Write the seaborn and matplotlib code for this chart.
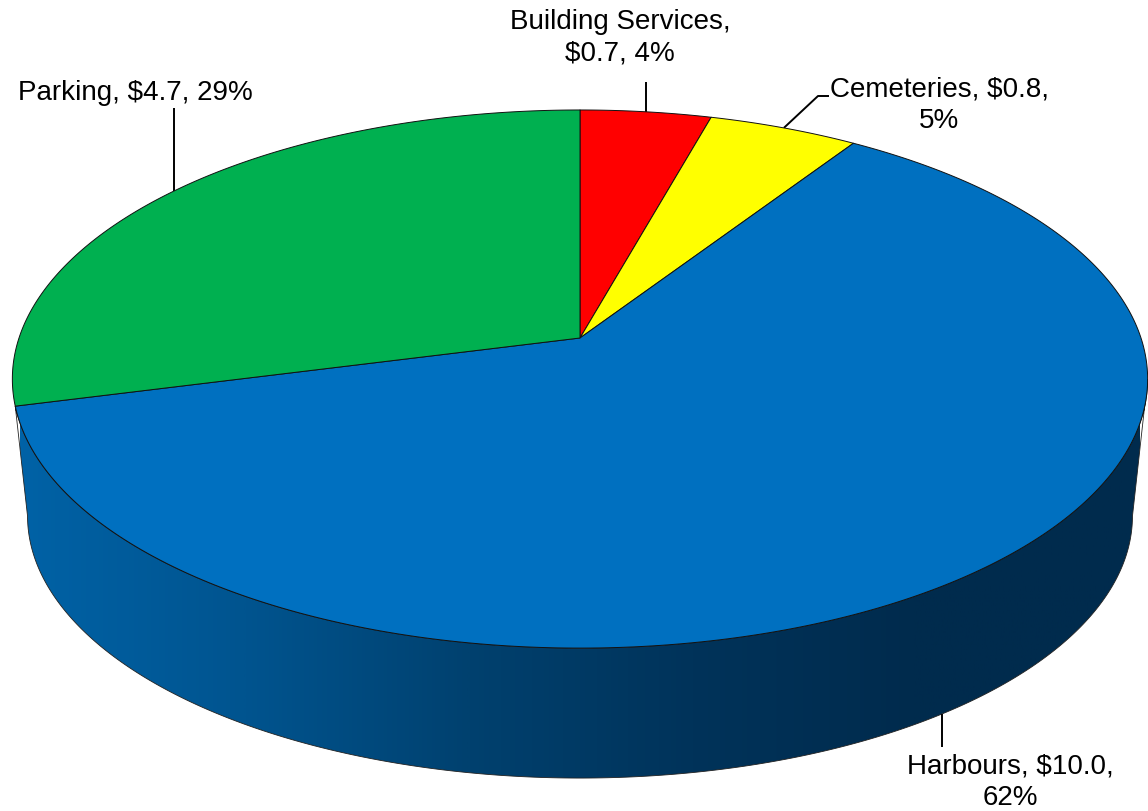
import numpy as np
import matplotlib
matplotlib.use("Agg")
import matplotlib.pyplot as plt
from matplotlib.patches import Polygon
from matplotlib.colors import to_rgb
import seaborn as sns

# Revenue by service, in $ millions, clockwise from twelve o'clock
categories = ["Building Services", "Cemeteries", "Harbours", "Parking"]
amounts = [0.7, 0.8, 10.0, 4.7]
percents = [4, 5, 62, 29]
slice_colors = ["#FF0000", "#FFFF00", "#0070C0", "#00B050"]
wall_colors = ["#0062A6", "#00548F", "#00416F", "#00335A", "#002B4D", "#002B4D"]

sns.set_theme(style="white")
plt.rcParams["font.family"] = ["Liberation Sans", "DejaVu Sans"]

W, H = 1148, 811
fig = plt.figure(figsize=(W / 100, H / 100), dpi=100)
ax = fig.add_axes([0, 0, 1, 1])
ax.set_axis_off()

# Perspective projection of the unit disc onto the page
TILT = 0.1525
TOP_RIM = dict(cx=580.0, cy=338.0, a=561.0, b=262.8)
BOTTOM_RIM = dict(cx=580.0, cy=476.0, a=546.0, b=256.0)


def project(theta, rim, r=1.0):
    sx, cy_ = r * np.sin(theta), r * np.cos(theta)
    d = 1 + TILT * cy_
    return rim["cx"] + rim["a"] * sx / d, rim["cy"] - rim["b"] * cy_ / d


shares = np.array(amounts) / np.sum(amounts)
edges = np.concatenate([[0.0], np.cumsum(shares)]) * 2 * np.pi
mids = (edges[:-1] + edges[1:]) / 2

# Outer wall, only visible below the rim of the large slice
grid = np.linspace(0, 2 * np.pi, 3601)
gx_top, _ = project(grid, TOP_RIM)
gx_bot, _ = project(grid, BOTTOM_RIM)
right_top = grid[np.argmax(gx_top)]
right_bot = grid[np.argmax(gx_bot)]
left_bot = grid[np.argmin(gx_bot)]
wall_start = edges[3]

top_arc = np.linspace(wall_start, right_top, 300)
bot_arc = np.linspace(right_bot, left_bot, 300)
wall_xy = np.vstack([np.column_stack(project(top_arc, TOP_RIM)),
                     np.column_stack(project(bot_arc, BOTTOM_RIM))])
wall_patch = Polygon(wall_xy, closed=True, facecolor="none",
                     edgecolor="#222222", linewidth=0.6, zorder=2)
ax.add_patch(wall_patch)

wall_cmap = sns.blend_palette([to_rgb(c) for c in wall_colors], as_cmap=True)
shade = ax.imshow(np.linspace(0, 1, 512)[None, :], cmap=wall_cmap, aspect="auto",
                  extent=(20, 1140, 790, 390), zorder=1)
shade.set_clip_path(Polygon(wall_xy, closed=True, transform=ax.transData))

# Top face of the pie
for start, stop, color in zip(edges[:-1], edges[1:], slice_colors):
    arc = np.linspace(start, stop, 300)
    xs, ys = project(arc, TOP_RIM)
    pts = np.vstack([[project(0.0, TOP_RIM, 0.0)], np.column_stack([xs, ys])])
    ax.add_patch(Polygon(pts, closed=True, facecolor=color, edgecolor="#111111",
                         linewidth=0.7, joinstyle="round", zorder=3))

# Data labels with their leader lines
label_text = [f"{c}, ${a:.1f}, {p}%" for c, a, p in zip(categories, amounts, percents)]
label_text[0] = f"{categories[0]},\n${amounts[0]:.1f}, {percents[0]}%"
label_text[1] = f"{categories[1]}, ${amounts[1]:.1f},\n{percents[1]}%"
label_text[2] = f"{categories[2]}, ${amounts[2]:.1f},\n{percents[2]}%"
label_pos = [(620, 38), (939, 105), (1010, 782), (135, 93)]

anchors = [project(mids[0], TOP_RIM), project(mids[1], TOP_RIM),
           project(mids[2], BOTTOM_RIM), project(mids[3], TOP_RIM)]
leader_ends = [[(None, 82)], [(818, 96), (829, 96)], [(None, 747)], [(None, 108)]]

for (ax_x, ax_y), tail in zip(anchors, leader_ends):
    xs, ys = [ax_x], [ax_y]
    for tx, ty in tail:
        xs.append(ax_x if tx is None else tx)
        ys.append(ty)
    ax.plot(xs, ys, color="black", linewidth=1.4, solid_capstyle="butt", zorder=2.5)

for text, (x, y) in zip(label_text, label_pos):
    ax.text(x, y, text, ha="center", va="center", fontsize=20, color="black",
            linespacing=1.28, zorder=5)

ax.set_xlim(0, W)
ax.set_ylim(H, 0)
fig.savefig("out.png", dpi=100, facecolor="white")
